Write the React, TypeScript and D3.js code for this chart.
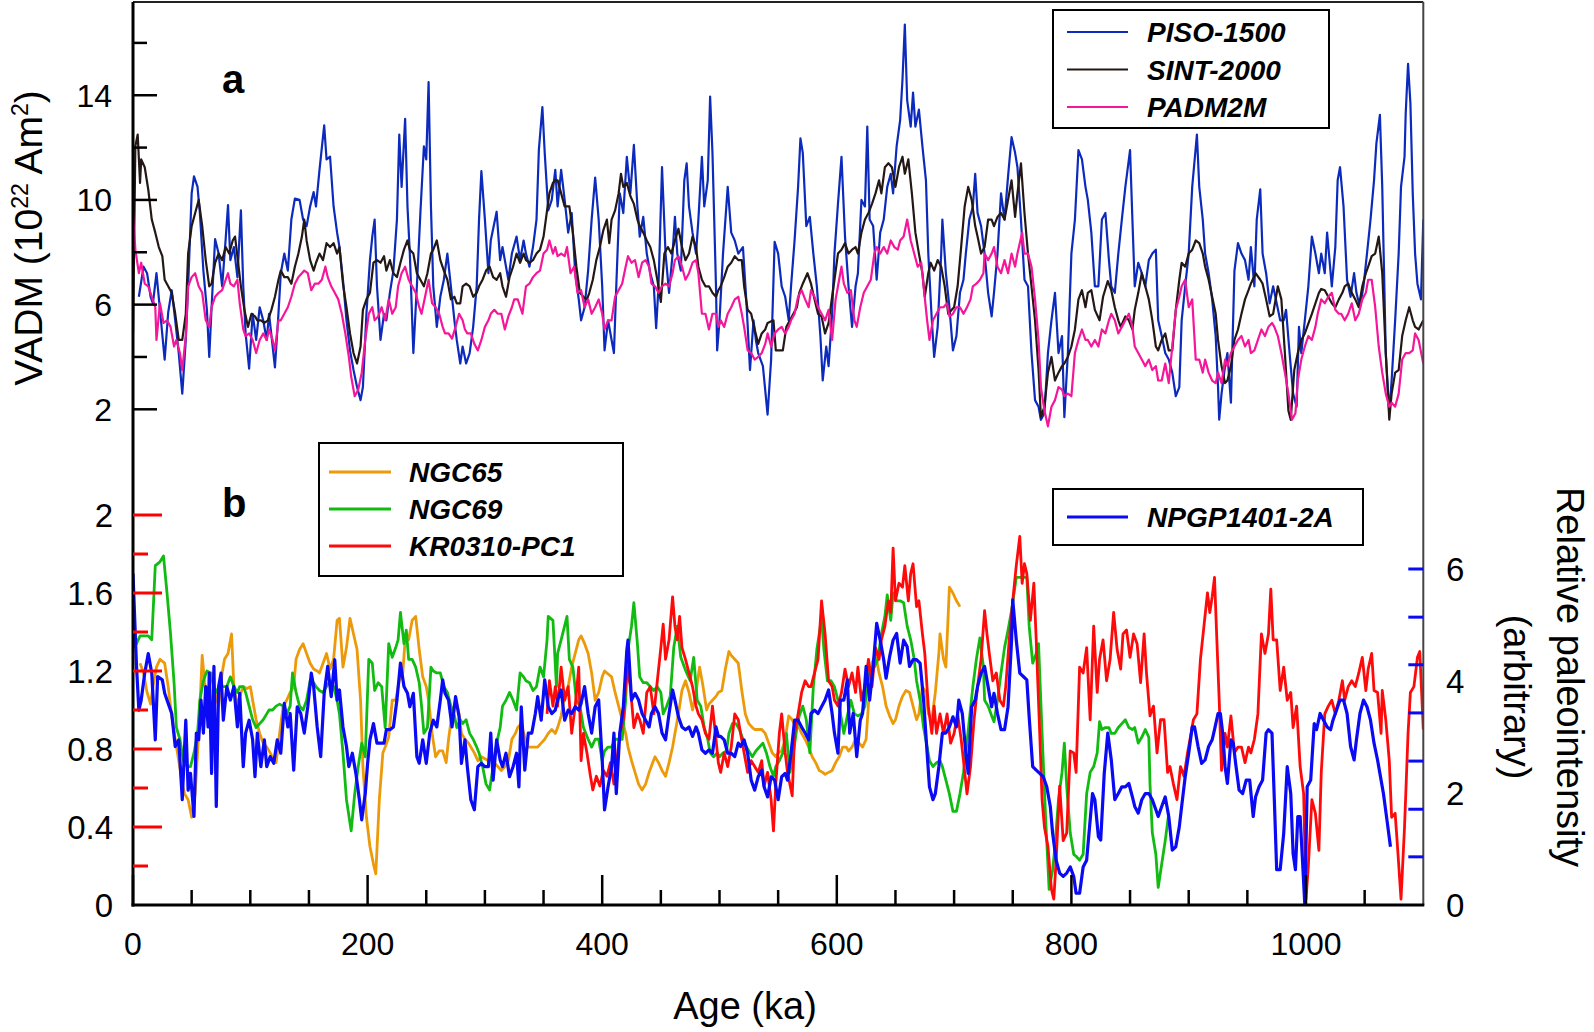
import React from "react";
import * as d3 from "d3";

// ---------- data: [age ka, value] ----------
const PISO_1500: [number, number][] = [
[5,6.3],[9,7.45],[12,7.2],[15,6.3],[17,6.05],[20,7.2],[23,5.8],[27,3.9],[30,5.7],[33,6.55],[36,5.4],[39,4.15],[42,2.6],[45,4.65],[47,6.7],[50,10.25],[52,10.9],[55,10.5],[57,9.5],[60,7.3],[63,5.8],[65,4.0],[67,5.9],[70,8.5],[73,7.95],[76,6.7],[79,8.5],[81,9.8],[83,7.7],[86,8.2],[89,7.05],[92,9.6],[94,6.7],[96,4.9],[99,3.55],[102,5.65],[105,4.65],[108,5.9],[111,5.4],[114,4.65],[116,5.65],[121,3.6],[124,5.65],[126,7.2],[129,7.95],[132,7.3],[135,9.25],[138,10.05],[142,10],[145,9.25],[148,9],[151,9.75],[154,10.3],[156,9.75],[159,11.15],[163,12.85],[165,11.55],[168,11.65],[171,9.75],[174,8.75],[176,8.2],[179,6.95],[182,5.4],[185,4.25],[188,3.5],[191,2.85],[194,2.35],[196,2.85],[199,5.65],[202,7.7],[204,8.6],[206,9.25],[208,6.7],[211,4.65],[214,5.65],[216,5.4],[219,6.45],[222,7.3],[225,9.25],[227,12.5],[229,10.5],[232,13.1],[234,9.75],[236,7.95],[239,4.15],[242,6.7],[245,9.5],[248,12.05],[250,11.55],[252,14.5],[254,9.75],[256,6.7],[259,5.15],[262,6.3],[265,6.95],[268,7.95],[271,6.7],[274,5.4],[276,4.65],[279,3.75],[281,4.4],[284,3.75],[287,4.15],[290,5.15],[293,6.7],[295,9.25],[297,11.1],[300,9.25],[303,7.2],[305,8.45],[310,9.55],[313,7.7],[315,8.2],[320,6.95],[323,7.95],[327,8.6],[330,7.7],[333,8.45],[335,7.95],[338,7.45],[341,8.2],[344,9.25],[346,11.9],[349,13.55],[351,11.8],[354,9.6],[357,10],
[360,11.15],[362,9.75],[365,11.15],[368,10],[371,8.75],[374,9.5],[377,7.2],[380,6.2],[382,5.4],[385,5.9],[388,7.3],[391,9.25],[394,10.85],[397,9.25],[400,6.7],[402,4.25],[405,5.4],[410,4.15],[412,6.7],[415,10.25],[418,9.5],[421,11.65],[424,10.25],[427,12.1],[430,9.75],[432,8.6],[435,9.35],[438,7.95],[441,7.2],[444,6.7],[446,5.1],[448,6.7],[451,11.25],[454,7.95],[457,6.45],[460,7.95],[462,9.35],[464,7.95],[467,7.3],[470,10.75],[472,11.4],[474,9.75],[477,8.75],[480,7.95],[482,9.25],[485,11.65],[487,9.75],[490,10.75],[492,13.95],[494,11.8],[497,6.7],[498,4.25],[500,5.4],[503,7.95],[507,10.5],[510,8.75],[513,8.45],[516,7.95],[520,8.2],[523,6.05],[526,3.5],[529,5.4],[531,4.65],[533,4.15],[537,3.65],[541,1.8],[544,3.9],[547,8.4],[550,7.95],[553,6.7],[556,6.3],[559,5.4],[561,6.7],[564,8.45],[567,10.5],[569,12.35],[571,11.8],[574,9],[577,9.35],[580,7.95],[583,6.7],[586,4.8],[588,3.1],[591,4.4],[593,3.65],[596,5.65],[598,7.95],[601,9.85],[604,11.65],[607,8.6],[610,6.7],[613,5.15],[616,6.7],[618,7.2],[621,10],[624,9.75],[626,12.8],[628,9.25],[631,9],[634,6.95],[637,8.75],[640,9.25],[643,10.5],[646,11],[648,10.25],[651,12.05],[654,13.05],[656,14.6],[658,16.7],[660,13.8],[663,12.8],[665,14.1],[667,12.8],[670,13.45],[673,12.05],[676,10.75],[678,7.95],[681,5.4],[683,4.0],[686,5.15],[689,7.95],[690,9.25],[693,7.2],[696,5.9],[699,4.25],[702,4.8],[705,6.45],[708,6.95],[710,7.95],[713,9.25],[716,9.75],[718,11],[720,9.5],[723,9],
[726,7.95],[729,6.45],[732,5.55],[734,6.45],[737,7.95],[740,10.25],[743,9.25],[746,10.9],[749,12.4],[752,11.8],[754,11.25],[757,9.25],[760,6.95],[763,6.7],[766,4.15],[769,2.35],[772,2.1],[774,1.6],[777,1.85],[780,4.15],[783,5.4],[786,6.45],[789,4.15],[792,4.8],[794,1.7],[797,4.15],[800,7.95],[803,9.25],[806,11.9],[809,11.55],[812,10.5],[814,10],[817,8.75],[820,6.7],[823,6.7],[826,9.25],[829,9.5],[832,7.7],[834,6.7],[837,6.45],[840,7.95],[843,9.25],[846,10.5],[850,11.9],[852,9.25],[854,6.7],[857,7.6],[860,7.2],[863,6.7],[866,7.7],[869,7.95],[872,8.1],[874,5.4],[877,4.8],[880,4.15],[883,3.9],[886,3.4],[889,2.5],[892,2.85],[894,5.4],[897,6.7],[900,7.95],[903,10.5],[907,12.5],[909,10.5],[912,9.25],[914,7.95],[917,7.2],[920,6.2],[923,4.8],[925,2.85],[926,1.6],[928,2.6],[931,3.65],[933,4.15],[936,2.25],[939,7.3],[942,8.35],[945,7.95],[948,7.7],[951,6.95],[953,8.2],[956,6.7],[958,9.25],[961,10.4],[963,7.95],[966,7.2],[969,6.05],[972,6.7],[975,6.05],[978,5.4],[981,5.4],[983,5.8],[986,4.15],[989,2.6],[992,2.1],[994,5.15],[996,4.15],[999,5.4],[1002,6.7],[1005,8.6],[1008,7.95],[1011,7.2],[1013,7.95],[1016,7.2],[1018,8.75],[1022,6.7],[1025,8.2],[1027,10.75],[1029,11.25],[1032,9.75],[1035,6.95],[1038,6.3],[1041,7.2],[1043,6.45],[1046,5.9],[1049,6.7],[1052,7.95],[1055,9.25],[1058,10.75],[1060,12.15],[1063,13.25],[1065,10.5],[1068,4.15],[1071,1.85],[1073,3.1],[1076,5.4],[1079,7.95],[1081,10.5],[1084,11.65],[1085,13.3],[1087,15.2],[1089,13.7],[1091,10.25],[1093,7.95],[1095,6.8],[1098,6.2],[1100,9.25]];

const SINT_2000: [number, number][] = [
[0,4.9],[2,12.05],[4,12.5],[6,10.65],[7,11.55],[10,11.25],[13,10.4],[16,9.25],[19,8.75],[22,8.2],[25,7.85],[27,6.95],[30,6.7],[33,6.45],[36,5.65],[39,4.65],[42,4.65],[45,5.65],[47,7.95],[50,9],[53,9.5],[56,10],[59,9],[62,7.7],[65,6.7],[67,6.8],[70,7.6],[73,7.95],[76,7.7],[79,8.2],[82,7.95],[85,8.45],[87,8.6],[90,7.45],[92,6.7],[95,5.8],[98,5.15],[101,5.65],[104,5.55],[106,5.4],[109,5.4],[112,5.3],[115,5.4],[118,5.8],[121,6.3],[124,6.95],[126,7.3],[129,7.05],[132,7.05],[135,6.8],[138,7.45],[141,7.95],[144,8.6],[146,9.25],[148,8.45],[151,7.7],[154,7.3],[156,7.6],[159,7.95],[162,7.7],[165,8.35],[168,8.2],[171,8.35],[174,7.95],[176,8.2],[179,6.8],[182,5.9],[185,4.9],[188,4.15],[191,3.75],[194,4.4],[196,5.8],[199,6.2],[202,6.45],[205,7.6],[208,7.7],[211,7.6],[214,7.85],[216,7.3],[219,7.7],[222,7.2],[225,7.05],[228,7.6],[231,8.1],[234,8.45],[236,8.1],[239,7.95],[242,7.2],[245,6.95],[248,6.7],[251,7.2],[254,7.95],[256,8.1],[259,8.45],[262,7.7],[265,7.3],[268,6.95],[271,6.2],[274,6.3],[276,6.05],[279,6.05],[281,6.7],[284,6.8],[287,6.7],[290,6.3],[293,6.45],[295,6.7],[298,6.95],[301,7.3],[304,7.45],[307,7.05],[310,6.95],[313,7.2],[315,6.7],[318,6.3],[321,7.05],[324,7.45],[327,7.95],[330,7.6],[333,7.95],[335,7.7],[338,7.6],[341,7.7],[344,7.95],[347,8.1],[350,8.6],[353,9.6],[355,10.25],[358,10.65],
[360,10.75],[362,10.75],[365,10.25],[368,9.75],[372,9.75],[375,8.75],[378,7.45],[381,6.45],[384,6.3],[387,6.2],[389,6.45],[392,6.95],[395,7.7],[398,8.2],[401,8.85],[404,9.25],[406,8.35],[408,9.25],[411,9.6],[414,10.25],[416,11],[418,10.5],[421,10.65],[424,10.15],[427,9.85],[430,9.25],[432,9],[435,8.75],[438,8.45],[441,8.2],[444,7.7],[447,6.95],[450,6.1],[453,7.95],[456,8.2],[459,7.95],[462,8.45],[465,8.9],[468,8.2],[471,7.7],[474,7.95],[477,8.6],[480,8.2],[482,7.45],[485,6.95],[488,6.7],[491,6.7],[494,6.45],[497,6.3],[499,6.55],[501,6.7],[504,7.05],[507,7.45],[510,7.6],[513,7.85],[516,7.7],[519,7.7],[521,6.7],[524,5.8],[527,5.65],[530,5.05],[533,4.5],[536,4.9],[539,5.05],[541,5.3],[546,5.4],[548,4.25],[551,4.25],[554,4.25],[557,5.15],[560,5.4],[563,5.65],[566,5.9],[568,6.45],[571,6.8],[575,7.2],[578,6.8],[581,6.2],[584,5.65],[587,5.55],[590,4.9],[593,5.3],[596,6.3],[598,6.95],[601,7.95],[604,8.1],[607,8.35],[610,7.95],[613,8.1],[616,8.2],[618,7.95],[621,8.75],[624,9.25],[627,9.5],[630,9.85],[633,10.25],[636,10.75],[638,10.25],[641,11.25],[644,11.4],[647,11.25],[650,10.5],[653,11.25],[656,11.65],[658,11],[661,11.55],[664,10.25],[667,8.75],[670,7.95],[673,7.2],[675,6.3],[678,7.2],[680,7.6],[683,7.3],[686,7.7],[689,7.45],[692,6.7],[695,5.65],[698,5.8],[700,5.9],[703,6.7],[706,8.2],[709,9.75],[712,10.5],[715,10],[718,9],[720,8.6],[723,7.95],
[726,8.2],[729,9.25],[732,9.25],[734,9],[737,9.35],[740,9.5],[743,9.25],[746,10],[749,10.75],[752,9.35],[754,10.25],[757,11.4],[760,9.5],[763,7.95],[766,6.7],[769,5.4],[772,3.5],[774,1.7],[777,2.1],[780,3.4],[783,4],[786,3.1],[789,3.4],[792,3.65],[794,3.75],[797,4],[800,4.4],[803,5.05],[806,6.2],[809,6.55],[812,5.9],[814,6.45],[817,6.55],[820,5.8],[824,5.4],[827,6.3],[831,6.9],[834,6.55],[837,5.9],[840,5.4],[842,5.15],[846,5.55],[849,5.4],[852,5.05],[854,5.8],[857,6.45],[860,7.2],[863,6.7],[866,6.2],[869,5.4],[872,4.4],[874,4.25],[877,4.65],[880,4.9],[883,4.25],[886,4.25],[889,5.8],[892,6.95],[894,7.6],[897,7.45],[900,7.95],[903,8.1],[906,8.45],[909,8.35],[912,7.95],[914,7.45],[917,6.95],[920,6.3],[923,5.65],[925,4.65],[928,3.65],[931,3],[933,3.1],[936,3.65],[939,4.65],[942,5.05],[945,5.65],[948,6.2],[951,6.55],[953,6.8],[957,7.2],[961,6.95],[963,6.8],[966,6.2],[969,5.55],[972,5.65],[976,6.7],[979,6.2],[982,4.15],[985,1.95],[987,1.6],[990,3.5],[993,4.15],[996,4.65],[999,4.9],[1001,5.15],[1005,5.65],[1008,6.05],[1011,6.45],[1013,6.6],[1016,6.55],[1019,6.3],[1022,6.05],[1025,5.9],[1028,6.2],[1031,6.45],[1033,6.7],[1036,6.8],[1039,6.45],[1042,6.2],[1045,5.9],[1048,6.7],[1051,7.2],[1053,7.45],[1056,7.85],[1059,7.95],[1062,8.6],[1065,7.2],[1068,4.15],[1071,1.6],[1073,2.6],[1076,3.4],[1079,3.5],[1082,4.8],[1085,5.4],[1088,5.9],[1091,5.4],[1093,5.15],[1096,5.05],[1100,5.4]];

const PADM2M: [number, number][] = [
[0,9.5],[2,8.1],[5,7.2],[7,7.6],[10,6.8],[13,6.7],[16,6.3],[19,5.9],[20,4.65],[23,6.05],[26,5.3],[29,5.4],[32,5.15],[35,4.4],[37,4.65],[40,4.15],[42,3.5],[45,4.8],[47,6.7],[50,7.05],[53,7.2],[56,6.7],[59,6.45],[62,5.4],[65,5.15],[67,5.9],[70,6.3],[73,6.45],[76,6.55],[79,6.95],[81,7.2],[83,6.8],[86,6.7],[89,6.95],[91,6.05],[94,5.05],[96,4.8],[99,4.9],[102,4.65],[105,4.15],[108,4.65],[111,4.9],[114,4.65],[116,5.05],[119,4.65],[121,4.25],[124,5.4],[126,5.4],[129,5.65],[132,5.9],[135,6.3],[138,6.8],[141,7.05],[144,7.2],[146,7.3],[149,7.2],[152,6.55],[155,6.8],[158,6.8],[161,6.95],[164,7.45],[166,7.05],[169,6.7],[172,6.45],[175,6.2],[178,5.65],[181,4.9],[184,4],[186,3.25],[189,2.5],[192,2.75],[195,3.4],[198,4.65],[201,5.65],[204,5.9],[206,5.4],[209,5.55],[212,5.9],[215,5.4],[218,6.2],[221,5.65],[224,5.9],[226,6.7],[229,7.2],[232,7.45],[235,6.95],[238,6.7],[241,6.45],[244,5.9],[246,5.65],[249,6.3],[252,6.95],[255,6.05],[258,5.9],[261,5.65],[264,5.15],[266,4.9],[269,4.9],[272,4.7],[275,5.15],[278,5.65],[281,5.4],[283,5.05],[285,4.9],[288,4.9],[291,4.5],[294,4.25],[297,4.65],[300,5.15],[303,5.4],[305,5.65],[308,5.8],[311,5.65],[314,5.65],[317,5.05],[320,5.55],[323,5.9],[325,6.2],[328,6.2],[332,5.65],[335,6.7],[338,6.8],[341,7.05],[344,7.2],[347,7.3],[350,7.95],[353,8.1],[355,8.45],[358,7.95],
[360,8.2],[362,7.85],[365,7.95],[368,7.85],[370,8.2],[373,7.2],[376,7.45],[379,6.45],[382,6.55],[385,5.9],[388,6.2],[391,5.65],[394,5.9],[397,6.2],[400,5.65],[402,5.05],[405,5.4],[408,5.4],[411,6.3],[414,6.55],[417,6.8],[420,7.45],[422,7.85],[425,7.6],[428,7.7],[431,7.05],[434,7.6],[437,7.7],[440,7.45],[442,6.8],[445,6.7],[448,6.45],[451,6.7],[454,6.8],[457,6.7],[460,7.2],[462,7.7],[465,7.85],[468,7.45],[471,6.95],[474,7.2],[477,7.6],[480,7.7],[482,7.2],[485,5.65],[488,5.65],[491,5.05],[494,5.65],[497,5.65],[499,5.15],[501,5.4],[504,5.15],[507,5.65],[510,5.9],[513,6.2],[516,6.3],[519,5.65],[521,5.15],[524,4.25],[527,4.15],[530,3.9],[533,4],[536,4.15],[539,4.5],[541,4.9],[544,4.4],[547,4.9],[550,5.05],[553,5.15],[556,4.9],[559,5.15],[561,5.4],[564,5.65],[567,6.3],[570,6.55],[573,6.2],[576,5.9],[578,6.55],[581,6.3],[584,5.9],[587,5.65],[590,5.4],[593,5.8],[596,4.65],[599,6.2],[601,6.7],[604,7.45],[606,6.8],[609,6.45],[612,6.55],[615,5.4],[617,5.15],[620,5.9],[623,6.45],[626,6.7],[629,6.95],[632,7.95],[634,8.2],[637,7.95],[640,8.2],[643,7.95],[646,8.45],[649,8.2],[652,8.1],[654,8.45],[657,8.6],[660,9.25],[663,8.45],[666,7.95],[669,7.45],[672,7.6],[674,6.7],[677,5.4],[679,4.65],[682,5.4],[685,5.65],[688,5.9],[691,5.9],[694,6.05],[696,5.55],[699,5.65],[702,5.9],[705,5.9],[708,5.65],[711,5.9],[714,6.2],[716,6.7],[719,6.8],[722,6.95],[725,7.2],
[726,7.95],[729,7.7],[732,7.95],[734,8.2],[737,7.45],[740,7.2],[743,7.7],[746,7.2],[749,7.95],[752,7.45],[754,7.95],[758,8.75],[760,7.95],[763,7.95],[766,7.45],[769,6.2],[772,4.65],[774,2.85],[777,1.95],[780,1.35],[783,2.1],[786,2.35],[789,2.85],[792,2.75],[794,2.5],[797,2.6],[800,2.5],[803,4.15],[806,4.65],[809,5.05],[812,4.65],[814,4.65],[817,4.4],[820,4.65],[823,4.4],[826,5.05],[829,4.9],[832,5.4],[834,5.65],[837,5.4],[840,4.9],[843,5.15],[846,5.4],[849,5.65],[852,5.15],[854,4.4],[857,4.15],[860,3.9],[863,3.65],[866,3.9],[869,3.5],[872,3.65],[874,3.1],[877,3.1],[880,3.75],[883,3],[886,4.4],[889,5.8],[892,6.3],[894,6.7],[897,6.95],[900,5.9],[903,6.2],[906,3.9],[909,3.9],[912,3.4],[914,3.9],[917,3.4],[920,3.1],[923,3],[925,3.4],[928,3],[931,3.9],[933,3.65],[936,4.15],[939,4.4],[942,4.65],[945,4.8],[948,4.4],[951,4.65],[953,4.15],[956,4.25],[959,4.65],[962,5.05],[965,4.8],[968,5.15],[971,5.3],[973,5.15],[976,4.8],[979,4.15],[982,3.4],[985,2.6],[988,1.6],[991,1.85],[993,3.1],[996,3.9],[999,4.4],[1002,4.8],[1005,4.65],[1008,5.15],[1010,5.65],[1013,6.2],[1016,6.05],[1019,6.3],[1022,6.45],[1025,5.8],[1028,5.65],[1030,5.65],[1033,5.4],[1036,5.65],[1039,6.05],[1042,5.4],[1045,5.65],[1048,6.2],[1051,6.45],[1053,6.95],[1056,6.95],[1059,5.9],[1062,4.4],[1065,3.4],[1068,2.6],[1071,2.1],[1073,2.25],[1076,2.1],[1079,2.6],[1082,3.9],[1085,4.15],[1088,4.15],[1091,4.25],[1093,4.9],[1096,4.65],[1100,3.75]];

const NGC65: [number, number][] = [
[6,1.24],[9,1.19],[12,1.09],[15,1.03],[17,1.12],[20,1.22],[23,1.26],[27,1.24],[30,1.12],[33,0.97],[36,0.85],[39,0.74],[42,0.62],[44,0.57],[47,0.54],[50,0.45],[53,0.57],[56,0.88],[59,1.28],[61,1.14],[64,1.05],[67,1.19],[70,1.09],[73,1.02],[76,1.19],[78,1.26],[81,1.29],[84,1.39],[86,1.12],[89,1.02],[91,1.07],[94,1.12],[97,1.11],[100,1.12],[102,1.05],[105,0.95],[108,0.88],[111,0.83],[114,0.81],[117,0.78],[120,0.74],[122,0.73],[125,0.88],[128,1.02],[131,1.05],[134,1.09],[137,1.12],[139,1.26],[142,1.31],[145,1.34],[148,1.29],[151,1.24],[154,1.21],[157,1.2],[159,1.19],[162,1.24],[165,1.29],[168,1.21],[171,1.26],[174,1.46],[176,1.47],[179,1.22],[182,1.32],[185,1.47],[188,1.39],[191,1.31],[194,1.05],[196,0.71],[199,0.45],[202,0.3],[205,0.21],[207,0.16],[210,0.54],[213,0.78],[215,0.81],[218,0.86],[221,1.05],[224,1.05],[227,1.15],[230,1.19],[232,1.36],[235,1.36],[238,1.46],[241,1.48],[244,1.31],[247,1.17],[250,1.12],[252,1.05],[255,0.88],[258,0.76],[261,0.79],[264,0.79],[267,0.73],[269,0.85],[272,0.98],[275,1.05],[278,0.98],[280,0.88],[283,0.85],[286,0.83],[288,0.81],[291,0.78],[294,0.74],[297,0.76],[300,0.75],[303,0.74],[306,0.74],[308,0.73],[311,0.71],[314,0.69],[317,0.71],[320,0.74],[323,0.85],[326,0.88],[328,0.91],[331,0.93],[334,0.86],[337,0.81],[340,0.81],[343,0.81],[345,0.81],[348,0.83],[351,0.85],[354,0.88],[357,0.9],
[360,0.88],[362,0.91],[365,0.97],[368,1.07],[371,1.12],[374,1.22],[377,1.29],[380,1.36],[382,1.38],[385,1.34],[388,1.29],[391,1.19],[394,1.05],[397,1.09],[400,1.17],[402,1.2],[408,1.17],[411,1.09],[414,1.02],[417,0.95],[420,0.88],[422,0.81],[425,0.74],[428,0.68],[431,0.62],[434,0.59],[437,0.62],[440,0.68],[443,0.73],[445,0.76],[448,0.73],[451,0.69],[454,0.66],[457,0.73],[460,0.81],[462,0.88],[465,0.98],[468,1.1],[471,1.15],[474,1.09],[477,1],[480,1.09],[483,1.22],[486,1.12],[489,1],[491,1.03],[494,1.05],[497,1.07],[499,1.09],[502,1.1],[505,1.21],[508,1.3],[510,1.28],[513,1.26],[516,1.24],[519,1.1],[522,0.98],[525,0.93],[528,0.91],[530,0.9],[533,0.9],[536,0.9],[539,0.88],[542,0.83],[545,0.78],[548,0.76],[550,0.78],[553,0.79],[556,0.85],[559,0.97],[562,0.95],[565,0.91],[568,0.91],[570,0.88],[573,0.85],[576,0.81],[579,0.76],[582,0.73],[585,0.69],[588,0.68],[590,0.67],[593,0.68],[596,0.69],[599,0.73],[602,0.76],[605,0.81],[608,0.81],[610,0.79],[613,0.81],[616,0.85],[619,0.83],[622,0.81],[625,0.85],[628,1.12],[630,1.24],[633,1.29],[636,1.19],[639,1.12],[642,1.02],[645,0.97],[648,0.93],[650,0.95],[653,1.02],[656,1.07],[659,1.1],[662,1.09],[665,1.02],[668,0.95],[670,0.98],[673,1.12],[676,1.09],[678,0.98],[681,0.95],[684,1.09],[687,1.29],[688,1.39],[691,1.26],[693,1.22],[696,1.63],[699,1.6],[702,1.56],[705,1.53]];

const NGC69: [number, number][] = [
[0,1.32],[3,1.34],[6,1.38],[9,1.38],[13,1.38],[16,1.36],[19,1.74],[23,1.76],[26,1.79],[29,1.6],[32,1.39],[35,1.14],[37,0.91],[40,0.85],[43,0.74],[46,0.71],[49,0.71],[52,0.78],[55,0.88],[57,1.05],[60,1.15],[63,1.2],[66,1.19],[69,1.12],[72,1.09],[75,1.12],[77,1.12],[80,1.12],[83,1.17],[86,1.12],[89,1.09],[91,1.12],[94,1.12],[96,1.09],[99,1.02],[102,0.95],[105,0.91],[108,0.93],[111,0.95],[114,0.98],[116,1],[119,1],[122,1.02],[125,1.03],[128,1.02],[131,0.98],[134,1.02],[136,1.19],[139,1.09],[142,1.02],[145,1],[148,1.05],[151,1.15],[154,1.14],[156,1.12],[159,1.1],[162,1.09],[165,1.12],[168,1.15],[171,1.12],[174,1.05],[176,0.98],[179,0.78],[182,0.54],[186,0.38],[189,0.57],[192,0.71],[195,0.83],[198,0.76],[201,1.26],[204,1.24],[206,1.1],[209,1.14],[212,1.12],[215,0.91],[218,1.34],[221,1.27],[224,1.32],[226,1.36],[228,1.5],[231,1.34],[233,1.41],[235,1.26],[238,1.26],[241,1.22],[244,1.14],[246,1.02],[248,0.88],[251,0.91],[254,1.22],[256,1.2],[259,1.19],[262,1.19],[265,1.12],[268,1.09],[271,1.02],[274,0.97],[276,0.91],[279,0.95],[281,0.93],[284,0.95],[287,0.88],[290,0.85],[293,0.81],[295,0.78],[298,0.71],[301,0.62],[304,0.59],[307,0.71],[310,0.83],[313,0.91],[315,1.02],[318,1.05],[321,1.09],[324,1.05],[327,1],[330,1.19],[333,1.17],[335,1.15],[338,1.14],[341,1.1],[344,1.12],[347,1.22],[350,1.17],[353,1.36],[354,1.48],[358,1.46],
[361,1.12],[362,1.29],[365,1.36],[370,1.48],[372,1.26],[375,1.22],[378,1.05],[381,1.02],[384,0.91],[388,0.85],[391,0.81],[394,0.85],[397,0.85],[400,0.74],[402,0.79],[405,0.81],[408,0.81],[411,0.85],[414,0.85],[417,0.85],[420,1.05],[422,1.31],[425,1.43],[427,1.55],[430,1.34],[432,1.17],[435,1.14],[438,1.14],[441,1.12],[444,1.1],[447,1.12],[450,1.09],[452,0.98],[455,1.02],[458,1.07],[461,1.32],[464,1.43],[467,1.27],[470,1.22],[472,1.19],[475,1.15],[478,1.27],[481,1.05],[484,1.02],[487,0.91],[490,0.85],[492,0.78],[495,0.76],[498,0.78],[500,0.76],[503,0.78],[506,0.79],[508,0.88],[511,0.93],[514,0.93],[517,0.9],[520,0.85],[523,0.81],[526,0.78],[528,0.76],[531,0.79],[534,0.81],[537,0.83],[540,0.78],[543,0.71],[546,0.66],[548,0.71],[551,0.74],[554,0.78],[557,0.88],[560,0.68],[563,0.78],[566,0.91],[568,0.97],[571,1.02],[574,0.95],[577,0.78],[580,1.12],[583,1.31],[586,1.43],[587,1.47],[589,1.31],[592,1.15],[595,1.15],[598,1.12],[601,1.05],[604,0.95],[606,0.88],[609,0.97],[612,1.05],[615,0.98],[618,0.97],[621,0.98],[624,1.02],[626,1.14],[629,1.22],[632,1.22],[635,1.26],[638,1.39],[641,1.48],[643,1.59],[646,1.46],[648,1.6],[651,1.56],[654,1.56],[657,1.55],[660,1.43],[663,1.36],[666,1.26],[668,1.15],[671,1.05],[674,0.91],[677,0.81],[679,0.74],[682,0.71],[685,0.73],[688,0.74],[690,0.71],[693,0.64],[696,0.57],[699,0.48],[702,0.48],[705,0.57],[708,0.68],[710,0.78],[713,0.95],[716,1.12],[719,1.26],[722,1.37],[725,1.22],
[726,1.05],[729,1.02],[732,0.97],[734,0.94],[737,1.05],[740,1.19],[743,1.32],[746,1.41],[749,1.51],[753,1.68],[757,1.68],[762,1.68],[764,1.43],[767,1.24],[770,1.29],[772,1.34],[775,0.88],[778,0.45],[781,0.08],[784,0.18],[786,0.3],[789,0.54],[792,0.68],[794,0.83],[796,0.61],[799,0.37],[802,0.26],[804,0.25],[807,0.23],[810,0.26],[813,0.57],[816,0.68],[819,0.71],[822,0.78],[824,0.94],[826,0.9],[829,0.91],[832,0.91],[834,0.88],[837,0.88],[840,0.91],[843,0.93],[846,0.95],[849,0.91],[852,0.9],[854,0.91],[857,0.83],[860,0.86],[863,0.9],[866,0.86],[867,0.62],[869,0.37],[872,0.26],[874,0.09],[877,0.21],[880,0.33],[883,0.47]];

const KR0310_PC1: [number, number][] = [
[353,0.98],[355,1.15],[358,1.02],
[360,1.12],[362,1.02],[365,1.22],[368,1.05],[371,1.12],[374,0.88],[377,1.02],[380,1.22],[382,0.74],[384,0.88],[387,0.78],[390,0.66],[392,0.59],[395,0.66],[398,0.61],[401,0.69],[404,0.66],[407,0.73],[410,0.62],[412,0.71],[415,0.88],[418,0.95],[421,1.22],[424,1.12],[427,0.91],[430,0.98],[432,0.95],[435,0.88],[438,1.09],[441,1.12],[444,0.98],[447,1.15],[450,1.32],[452,1.44],[454,1.26],[457,1.36],[460,1.58],[462,1.43],[464,1.36],[466,1.48],[468,1.32],[471,1.26],[474,1.19],[477,1.12],[480,1.02],[482,0.98],[485,0.95],[488,0.88],[491,0.85],[494,1.02],[497,0.85],[499,0.73],[501,0.68],[504,0.78],[507,0.71],[510,0.81],[513,0.98],[516,0.95],[518,0.88],[521,0.78],[524,0.68],[527,0.74],[530,0.71],[533,0.68],[536,0.74],[538,0.61],[541,0.68],[544,0.54],[546,0.38],[548,0.62],[551,0.88],[553,0.98],[556,0.78],[558,0.68],[562,0.56],[564,0.88],[567,0.98],[570,1.09],[573,1.15],[576,1.12],[578,1.12],[581,1.19],[584,1.26],[587,1.56],[590,1.39],[593,1.15],[596,1.12],[598,1.05],[601,1.02],[604,1.09],[607,1.21],[610,1.12],[613,1.19],[616,1.09],[618,1.22],[621,1.05],[624,1.12],[627,1.26],[630,1.12],[633,1.32],[636,1.26],[638,1.36],[641,1.43],[644,1.56],[646,1.5],[648,1.83],[650,1.56],[653,1.65],[656,1.63],[658,1.74],[661,1.56],[663,1.7],[665,1.75],[668,1.53],[670,1.56],[673,1.39],[675,1.29],[678,1.02],[681,0.88],[683,1.02],[685,0.88],[688,0.98],[691,0.88],[694,0.98],[697,0.83],[700,0.88],[703,0.98],[706,0.85],[708,0.74],[711,0.57],[714,0.71],[717,0.95],[720,1.12],[723,1.26],
[726,1.51],[728,1.39],[730,1.29],[733,1.15],[736,1.19],[739,1.05],[742,1.02],[744,1.12],[747,1.36],[750,1.56],[753,1.74],[756,1.89],[758,1.65],[760,1.75],[762,1.7],[765,1.46],[768,1.65],[770,1.36],[773,0.88],[775,0.54],[777,0.4],[780,0.3],[783,0.08],[785,0.03],[787,0.23],[790,0.61],[793,0.33],[796,0.37],[799,0.79],[802,0.78],[804,0.68],[807,1.22],[810,1.19],[813,1.32],[816,0.95],[819,1.43],[822,1.09],[824,1.26],[827,1.36],[830,1.15],[833,1.26],[836,1.5],[839,1.31],[842,1.21],[844,1.39],[847,1.41],[850,1.27],[853,1.39],[856,1.34],[859,1.14],[862,1.39],[864,1.19],[867,0.97],[870,1.02],[873,0.78],[876,0.95],[879,0.95],[882,0.68],[884,0.71],[887,0.62],[890,0.54],[893,0.71],[896,0.66],[899,0.78],[902,0.88],[904,0.95],[907,0.98],[910,1.26],[913,1.43],[916,1.6],[918,1.5],[920,1.58],[922,1.68],[924,1.36],[926,1.05],[928,0.69],[931,0.88],[933,0.81],[936,0.97],[939,0.78],[942,0.81],[945,0.81],[948,0.73],[951,0.81],[953,0.78],[956,0.85],[959,0.98],[962,1.39],[965,1.29],[968,1.39],[970,1.62],[972,1.36],[975,1.36],[978,1.1],[981,1.22],[984,1.05],[987,1.09],[989,0.91],[992,1.02],[995,0.71],[998,0.57],[1000,0.03],[1002,0.2],[1005,0.54],[1008,0.47],[1011,0.28],[1013,0.68],[1016,0.98],[1019,1.02],[1022,1.05],[1025,0.98],[1028,1.05],[1031,1.15],[1033,1.05],[1036,1.12],[1039,1.15],[1042,1.12],[1045,1.19],[1048,1.27],[1051,1.1],[1053,1.21],[1056,1.29],[1058,1.1],[1061,1.09],[1064,0.88],[1065,1.1],[1068,0.95],[1071,0.74],[1073,0.45],[1076,0.47],[1078,0.3],[1081,0.03],[1084,0.4],[1087,0.88],[1089,1.09],[1092,1.12],[1095,1.27],[1097,1.3],[1100,0.9]];

// right-axis (relative paleointensity, arbitrary) units
const NPGP1401_2A: [number, number][] = [
[0,5.92],[3,4.26],[5,3.48],[7,3.66],[10,4.14],[13,4.49],[16,4.14],[19,2.95],[21,4.08],[25,4.02],[27,3.78],[30,3.6],[33,3.42],[36,2.83],[39,2.95],[42,1.88],[45,3.3],[47,2.05],[49,2.35],[52,1.58],[54,3.07],[56,2.95],[58,3.66],[60,3.07],[62,3.9],[64,3.18],[65,4.14],[67,2.35],[69,4.26],[71,1.76],[73,3.9],[75,4.14],[77,3.3],[80,3.9],[83,3.66],[86,3.9],[89,3.18],[91,3.78],[94,2.47],[96,3.07],[99,3.3],[102,2.95],[104,2.29],[106,3.07],[109,2.47],[112,2.95],[114,2.47],[117,2.65],[120,2.53],[123,2.95],[126,2.71],[129,3.6],[132,3.18],[134,3.42],[137,2.41],[140,3.54],[143,3.42],[146,3.07],[149,3.54],[152,4.14],[154,3.9],[157,3.18],[160,2.65],[163,3.78],[166,4.26],[169,3.72],[172,4.38],[174,3.66],[176,3.84],[179,3.18],[182,2.83],[184,2.47],[187,2.71],[190,2.35],[193,1.88],[195,1.52],[198,1.99],[200,2.53],[202,2.95],[205,3.24],[208,2.89],[211,2.89],[214,2.89],[216,3.13],[219,3.13],[222,3.18],[225,3.66],[228,4.32],[231,3.9],[234,3.78],[236,3.54],[239,3.78],[242,2.65],[244,2.53],[247,2.95],[250,2.53],[253,3.07],[256,3.3],[259,3.18],[262,3.66],[264,4.02],[266,3.78],[269,3.66],[272,3.18],[275,3.72],[278,3.36],[280,2.53],[283,2.95],[285,2.47],[288,1.88],[291,1.7],[294,2.47],[297,2.53],[300,2.47],[303,2.47],[305,3.07],[307,2.23],[310,2.95],[313,2.59],[315,2.47],[318,2.71],[321,2.29],[324,2.47],[327,2.71],[329,2.11],[331,3.54],[334,2.41],[337,3.07],[340,3.07],[343,3.42],[345,3.72],[348,3.3],[351,4.02],[354,3.54],[357,3.42],
[360,3.48],[362,3.66],[365,3.84],[368,3.3],[371,3.48],[374,3.42],[377,3.54],[380,3.48],[382,3.6],[385,3.9],[388,3.42],[391,3.07],[394,3.54],[397,3.66],[400,2.59],[402,1.7],[405,2.11],[408,2.47],[410,3.07],[412,1.99],[415,3.07],[418,3.54],[421,4.55],[422,4.73],[425,3.66],[428,3.78],[431,3.66],[434,3.42],[437,3.3],[440,3.18],[442,3.42],[445,3.54],[448,3.42],[451,3.07],[454,2.95],[457,3.42],[460,3.84],[462,3.66],[465,3.36],[468,3.18],[471,3.13],[474,3.18],[477,3.01],[480,3.18],[482,3.07],[485,2.77],[488,2.71],[491,2.77],[494,2.71],[497,3.18],[499,3.01],[501,3.01],[504,2.95],[507,2.71],[510,2.71],[513,2.65],[516,2.89],[518,2.83],[521,2.95],[524,2.71],[527,2.23],[530,2.05],[533,2.29],[536,2.41],[538,2.11],[541,1.93],[544,2.29],[547,2.23],[550,1.88],[553,2.29],[556,2.35],[558,2.23],[561,2.71],[564,3.3],[567,3.3],[570,3.18],[573,3.07],[576,2.95],[578,3.42],[581,3.48],[584,3.42],[587,3.54],[590,3.66],[593,3.84],[596,3.42],[598,3.07],[601,2.71],[603,3.66],[606,3.66],[609,4.02],[611,3.07],[614,3.42],[617,2.65],[620,3.3],[622,3.42],[625,4.26],[628,3.66],[631,4.26],[634,5.03],[637,4.73],[640,4.38],[642,4.05],[645,4.43],[648,4.73],[651,4.85],[654,4.32],[657,4.73],[660,4.61],[662,4.26],[665,4.38],[668,4.38],[671,4.32],[674,3.66],[677,2.71],[679,2.11],[682,1.88],[684,1.99],[687,2.47],[690,3.07],[693,3.07],[696,3.18],[699,3.36],[702,3.18],[704,3.66],[707,3.42],[710,2.71],[712,2.35],[715,3.54],[718,3.66],[720,3.9],[723,4.14],
[726,4.26],[729,3.9],[732,3.54],[734,3.78],[737,3.42],[740,3.13],[743,3.13],[746,3.54],[749,4.73],[750,5.45],[753,4.73],[756,4.14],[759,4.08],[762,4.02],[764,3.36],[767,2.47],[770,2.41],[773,2.35],[776,2.29],[779,2.11],[782,1.76],[784,1.28],[787,0.8],[790,0.57],[793,0.51],[796,0.57],[799,0.68],[802,0.51],[804,0.21],[807,0.21],[810,0.68],[813,0.8],[816,1.52],[818,1.99],[820,1.88],[823,1.22],[825,1.16],[828,2.35],[831,3.07],[834,2.59],[837,1.88],[840,1.99],[843,2.11],[846,2.11],[849,2.17],[852,1.93],[854,1.76],[857,1.64],[860,1.88],[863,1.99],[866,1.99],[869,1.88],[872,1.7],[874,1.58],[877,1.76],[880,1.93],[883,1.58],[886,0.98],[889,1.04],[892,1.4],[894,1.76],[897,2.29],[900,2.71],[903,3.18],[905,3.18],[908,2.83],[911,2.53],[914,2.59],[917,2.83],[920,2.95],[922,3.13],[925,3.42],[927,3.42],[929,3.07],[931,2.47],[933,2.17],[936,2.95],[938,2.89],[940,2.53],[943,2.05],[946,1.99],[949,2.23],[952,2.23],[955,1.58],[957,1.93],[960,2.11],[963,2.23],[966,3.07],[968,3.13],[971,3.07],[973,1.88],[975,0.63],[978,0.63],[981,1.28],[984,2.47],[987,1.99],[989,0.92],[991,0.63],[993,1.58],[995,1.58],[997,0.8],[999,0],[1001,2.11],[1004,2.23],[1007,3.24],[1009,3.13],[1012,3.42],[1015,3.3],[1018,3.18],[1021,3.13],[1023,3.3],[1026,3.48],[1029,3.66],[1032,3.66],[1035,3.42],[1038,2.83],[1041,2.59],[1043,2.95],[1046,3.42],[1049,3.66],[1052,3.54],[1055,3.3],[1058,2.89],[1061,2.59],[1063,2.35],[1066,1.99],[1069,1.52],[1072,1.04]];

// ---------- axis ticks / labels ----------
const X_MAJOR = [0, 200, 400, 600, 800, 1000];
const X_MINOR = [50, 100, 150, 250, 300, 350, 450, 500, 550, 650, 700, 750, 850, 900, 950, 1050];
const A_MAJOR = [2, 6, 10, 14];
const A_MINOR = [4, 8, 12, 16];
const B_MAJOR = [0.4, 0.8, 1.2, 1.6, 2];
const B_MINOR = [0.2, 0.6, 1.0, 1.4, 1.8];
const B_LABELS = [0, 0.4, 0.8, 1.2, 1.6, 2];
const R_LABELS = [0, 2, 4, 6];
const R_TICKS = [0.86, 1.71, 2.57, 3.43, 4.29, 5.14, 6];

const LEGEND_A = [
  { name: "PISO-1500", color: "#0c2bbd" },
  { name: "SINT-2000", color: "#231815" },
  { name: "PADM2M", color: "#f5169a" },
];
const LEGEND_B = [
  { name: "NGC65", color: "#ec9a0a" },
  { name: "NGC69", color: "#12bb12" },
  { name: "KR0310-PC1", color: "#ff0a0a" },
];
const LEGEND_C = [{ name: "NPGP1401-2A", color: "#0a0af5" }];

const FONT = "'Liberation Sans', Arial, Helvetica, sans-serif";

export default function App() {
  const W = 1594, H = 1032;
  const x = d3.scaleLinear().domain([0, 1100]).range([133, 1423.3]);
  const yA = d3.scaleLinear().domain([2, 16]).range([409.3, 42.9]);
  const yB = d3.scaleLinear().domain([0, 2]).range([905, 515]);
  const yR = d3.scaleLinear().domain([0, 6]).range([905, 569]);

  const lineA = d3.line<[number, number]>().x(d => x(d[0])).y(d => yA(d[1]));
  const lineB = d3.line<[number, number]>().x(d => x(d[0])).y(d => yB(d[1]));
  const lineR = d3.line<[number, number]>().x(d => x(d[0])).y(d => yR(d[1]));

  const x0 = x(0), x1 = x(1100), yTop = 2, yBot = yB(0);

  return (
    <svg width={W} height={H} style={{ position: "absolute", left: 0, top: 0, background: "#fff" }}
      fontFamily={FONT}>
      <rect x={0} y={0} width={W} height={H} fill="#fff" />
      <defs>
        <clipPath id="plot"><rect x={x0} y={yTop} width={x1 - x0} height={yBot - yTop} /></clipPath>
      </defs>

      {/* series panel a */}
      <g clipPath="url(#plot)" fill="none" strokeLinejoin="round">
        <path d={lineA(PISO_1500) || ""} stroke={LEGEND_A[0].color} strokeWidth={2.2} />
        <path d={lineA(SINT_2000) || ""} stroke={LEGEND_A[1].color} strokeWidth={2.2} />
        <path d={lineA(PADM2M) || ""} stroke={LEGEND_A[2].color} strokeWidth={2.2} />
        {/* panel b */}
        <path d={lineB(NGC65) || ""} stroke={LEGEND_B[0].color} strokeWidth={2.8} />
        <path d={lineB(NGC69) || ""} stroke={LEGEND_B[1].color} strokeWidth={2.8} />
        <path d={lineB(KR0310_PC1) || ""} stroke={LEGEND_B[2].color} strokeWidth={2.8} />
        <path d={lineR(NPGP1401_2A) || ""} stroke={LEGEND_C[0].color} strokeWidth={3.2} />
      </g>

      {/* frame */}
      <line x1={x0} x2={x1} y1={yTop} y2={yTop} stroke="#222" strokeWidth={2} />
      <line x1={x1} x2={x1} y1={yTop} y2={yBot} stroke="#444" strokeWidth={2} />
      <line x1={x0} x2={x0} y1={yTop} y2={yBot + 1.5} stroke="#000" strokeWidth={3} />
      <line x1={x0 - 1.5} x2={x1 + 1} y1={yBot} y2={yBot} stroke="#000" strokeWidth={3} />

      {/* x ticks */}
      {X_MAJOR.map(t => (
        <line key={"xM" + t} x1={x(t)} x2={x(t)} y1={yBot} y2={yBot - 30} stroke="#000" strokeWidth={2.5} />
      ))}
      {X_MINOR.map(t => (
        <line key={"xm" + t} x1={x(t)} x2={x(t)} y1={yBot} y2={yBot - 15} stroke="#000" strokeWidth={2.5} />
      ))}
      {X_MAJOR.map(t => (
        <text key={"xl" + t} x={x(t)} y={955} fontSize={32} textAnchor="middle" fill="#000">{t}</text>
      ))}
      <text x={745} y={1019} fontSize={38} textAnchor="middle" fill="#000">Age (ka)</text>

      {/* panel a y axis */}
      {A_MAJOR.map(v => (
        <line key={"aM" + v} x1={x0} x2={x0 + 24} y1={yA(v)} y2={yA(v)} stroke="#000" strokeWidth={2.5} />
      ))}
      {A_MINOR.map(v => (
        <line key={"am" + v} x1={x0} x2={x0 + 14} y1={yA(v)} y2={yA(v)} stroke="#000" strokeWidth={2.5} />
      ))}
      {A_MAJOR.map(v => (
        <text key={"al" + v} x={112} y={yA(v) + 11.5} fontSize={32} textAnchor="end" fill="#000">{v}</text>
      ))}
      <text transform="translate(42,238) rotate(-90)" fontSize={39} textAnchor="middle" fill="#000">
        VADM (10<tspan fontSize={23} dy={-14}>22</tspan><tspan dy={14}> Am</tspan><tspan fontSize={23} dy={-14}>2</tspan><tspan dy={14}>)</tspan>
      </text>
      <text x={222} y={93} fontSize={40} fontWeight="bold" fill="#000">a</text>

      {/* panel b left axis */}
      {B_MAJOR.map(v => (
        <line key={"bM" + v} x1={x0} x2={x0 + 29} y1={yB(v)} y2={yB(v)} stroke="#ff0000" strokeWidth={3} />
      ))}
      {B_MINOR.map(v => (
        <line key={"bm" + v} x1={x0} x2={x0 + 15} y1={yB(v)} y2={yB(v)} stroke="#ff0000" strokeWidth={3} />
      ))}
      {B_LABELS.map(v => (
        <text key={"bl" + v} x={113} y={yB(v) + 11.5} fontSize={33} textAnchor="end" fill="#000">{v}</text>
      ))}
      <text x={222} y={517} fontSize={40} fontWeight="bold" fill="#000">b</text>

      {/* right axis */}
      {R_TICKS.map(v => (
        <line key={"rt" + v} x1={x1 - 15} x2={x1} y1={yR(v)} y2={yR(v)} stroke="#0a0af5" strokeWidth={3} />
      ))}
      {R_LABELS.map(v => (
        <text key={"rl" + v} x={1446} y={yR(v) + 12} fontSize={33} textAnchor="start" fill="#000">{v}</text>
      ))}
      <text transform="translate(1557,677) rotate(90)" fontSize={38} textAnchor="middle" fill="#000">Relative paleointensity</text>
      <text transform="translate(1504,697) rotate(90)" fontSize={38} textAnchor="middle" fill="#000">(arbitrary)</text>

      {/* legend a */}
      <rect x={1053} y={10} width={276} height={118} fill="#fff" stroke="#000" strokeWidth={2} />
      {LEGEND_A.map((s, i) => (
        <g key={s.name}>
          <line x1={1067} x2={1128} y1={32 + i * 37.5} y2={32 + i * 37.5} stroke={s.color} strokeWidth={2} />
          <text x={1147} y={32 + i * 37.5 + 10} fontSize={28} fontWeight="bold" fontStyle="italic" fill="#000">{s.name}</text>
        </g>
      ))}

      {/* legend b */}
      <rect x={319} y={443} width={304} height={133} fill="#fff" stroke="#000" strokeWidth={2} />
      {LEGEND_B.map((s, i) => (
        <g key={s.name}>
          <line x1={329} x2={391} y1={472 + i * 37} y2={472 + i * 37} stroke={s.color} strokeWidth={3} />
          <text x={409} y={472 + i * 37 + 10} fontSize={28} fontWeight="bold" fontStyle="italic" fill="#000">{s.name}</text>
        </g>
      ))}

      {/* legend c */}
      <rect x={1053} y={489} width={310} height={56} fill="#fff" stroke="#000" strokeWidth={2} />
      {LEGEND_C.map(s => (
        <g key={s.name}>
          <line x1={1067} x2={1128} y1={517} y2={517} stroke={s.color} strokeWidth={3} />
          <text x={1147} y={527} fontSize={28} fontWeight="bold" fontStyle="italic" fill="#000">{s.name}</text>
        </g>
      ))}
    </svg>
  );
}
